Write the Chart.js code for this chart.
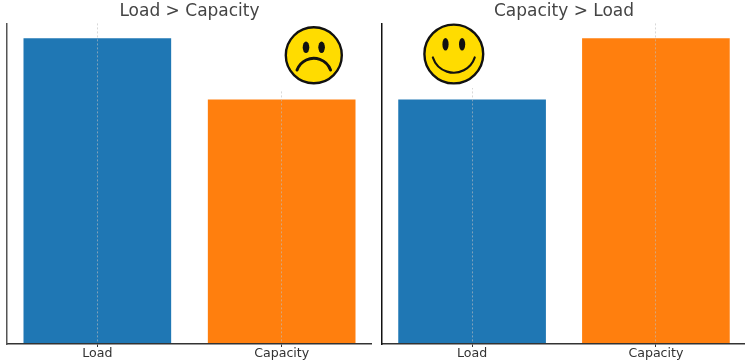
<!DOCTYPE html>
<html>
<head>
<meta charset="utf-8">
<title>Load and Capacity</title>
<script src="https://cdn.jsdelivr.net/npm/chart.js@4"></script>
<style>
  html, body { margin: 0; padding: 0; background: #fff; }
  body { width: 745px; height: 364px; position: relative; overflow: hidden; }
  .panel { position: absolute; top: 0; height: 364px; }
  #leftPanel { left: 0; width: 372px; }
  #rightPanel { left: 375px; width: 371px; }
</style>
</head>
<body>
<div class="panel" id="leftPanel"><canvas id="leftChart"></canvas></div>
<div class="panel" id="rightPanel"><canvas id="rightChart"></canvas></div>
<script>
  var categories = ['Load', 'Capacity'];
  var overloadValues = [10, 8];
  var sparedValues = [8, 10];
  var barColors = ['#1f77b4', '#ff7f0e'];
  var yMax = 10.5;

  // sticker painted over the plot, white box included, like the pasted image in the original
  function sadFace(c, cx, cy, r) {
    drawHead(c, cx, cy, r);
    drawEyes(c, cx, cy - 8, 7.8, 3.3, 5.8);
    c.lineWidth = 3;
    c.beginPath();
    c.arc(cx, cy + 20.8, 17.8, Math.PI * 1.11, Math.PI * 1.89);
    c.stroke();
  }

  function happyFace(c, cx, cy, r) {
    drawHead(c, cx, cy, r);
    drawEyes(c, cx, cy - 9.7, 8.3, 3.1, 6.3);
    c.lineWidth = 2.2;
    c.beginPath();
    c.arc(cx, cy - 3.3, 22, Math.PI * 0.1, Math.PI * 0.9);
    c.stroke();
  }

  function drawHead(c, cx, cy, r) {
    c.beginPath();
    c.arc(cx, cy, r, 0, Math.PI * 2);
    c.fillStyle = '#ffdc00';
    c.fill();
    c.lineWidth = 2.4;
    c.strokeStyle = '#111';
    c.stroke();
  }

  function drawEyes(c, cx, y, dx, rx, ry) {
    c.fillStyle = '#111';
    [-1, 1].forEach(function (s) {
      c.beginPath();
      c.ellipse(cx + s * dx, y, rx, ry, 0, 0, Math.PI * 2);
      c.fill();
    });
  }

  function facePlugin(draw, cx, cy, r, box) {
    return {
      id: 'face',
      afterDraw: function (chart) {
        var c = chart.ctx;
        c.save();
        c.fillStyle = '#fff';
        c.fillRect(box[0], box[1], box[2], box[3]);
        c.lineCap = 'round';
        draw(c, cx, cy, r);
        c.restore();
      }
    };
  }

  function makeChart(id, title, values, axisColor, plugin) {
    return new Chart(document.getElementById(id), {
      type: 'bar',
      data: {
        datasets: [{
          data: values.map(function (v, i) { return { x: i, y: v }; }),
          backgroundColor: barColors,
          barThickness: 147,
          borderWidth: 0
        }]
      },
      options: {
        responsive: true,
        maintainAspectRatio: false,
        animation: false,
        layout: { padding: { left: 7, right: 0, top: 0, bottom: 0 } },
        plugins: {
          legend: { display: false },
          tooltip: { enabled: false },
          title: {
            display: true,
            text: title,
            color: '#444',
            font: { family: 'DejaVu Sans', size: 17, weight: 'normal' },
            padding: { top: 1, bottom: 2 }
          }
        },
        scales: {
          x: {
            type: 'linear',
            offset: false,
            min: -0.49,
            max: 1.49,
            afterBuildTicks: function (axis) {
              axis.ticks = categories.map(function (c, i) { return { value: i }; });
            },
            afterFit: function (axis) {
              axis.height = 20;
            },
            ticks: {
              color: '#333',
              font: { family: 'DejaVu Sans', size: 12.6 },
              padding: -1,
              autoSkip: false,
              maxRotation: 0,
              callback: function (v) { return categories[v]; }
            },
            grid: {
              offset: false,
              z: 1,
              color: 'rgba(190,190,190,0.6)',
              lineWidth: 1,
              tickColor: '#333',
              tickLength: 3,
              tickBorderDash: []
            },
            border: { z: 2, color: '#333', width: 1.5, dash: [2, 2] }
          },
          y: {
            min: 0,
            max: yMax,
            ticks: { display: false },
            grid: { display: false, drawTicks: false },
            border: { z: 2, color: axisColor, width: 1.5 }
          }
        }
      },
      plugins: [plugin]
    });
  }

  makeChart('leftChart', 'Load > Capacity', overloadValues, '#555',
    facePlugin(sadFace, 313.8, 55.3, 28, [278, 23, 72, 68]));
  makeChart('rightChart', 'Capacity > Load', sparedValues, '#111',
    facePlugin(happyFace, 78.8, 54, 29.4, [43, 23, 68, 65]));
</script>
</body>
</html>
